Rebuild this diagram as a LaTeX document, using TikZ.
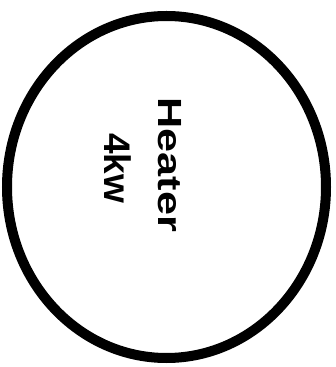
\documentclass[tikz,border=0pt]{standalone}
\usepackage{fontspec}
\usepackage{graphicx}
\usetikzlibrary{shapes.geometric}
\setmainfont{Liberation Sans}
\begin{document}
\begin{tikzpicture}[x=1pt,y=1pt,
  heaterring/.style={draw=black, line width=10pt},
  lbl/.style={inner sep=0pt, rotate=-90, font=\bfseries}]
\useasboundingbox (0,0) rectangle (335,367);
\node[heaterring, ellipse, minimum width=319pt, minimum height=342pt, inner sep=0pt] (ring) at (166.5,180) {};
\node[lbl] (name) at (170,202) {\fontsize{33.5}{36}\selectfont\scalebox{1.29}[1]{Heater}};
\node[lbl] (power) at (117.5,199) {\fontsize{37}{40}\selectfont 4kw};
\end{tikzpicture}
\end{document}
